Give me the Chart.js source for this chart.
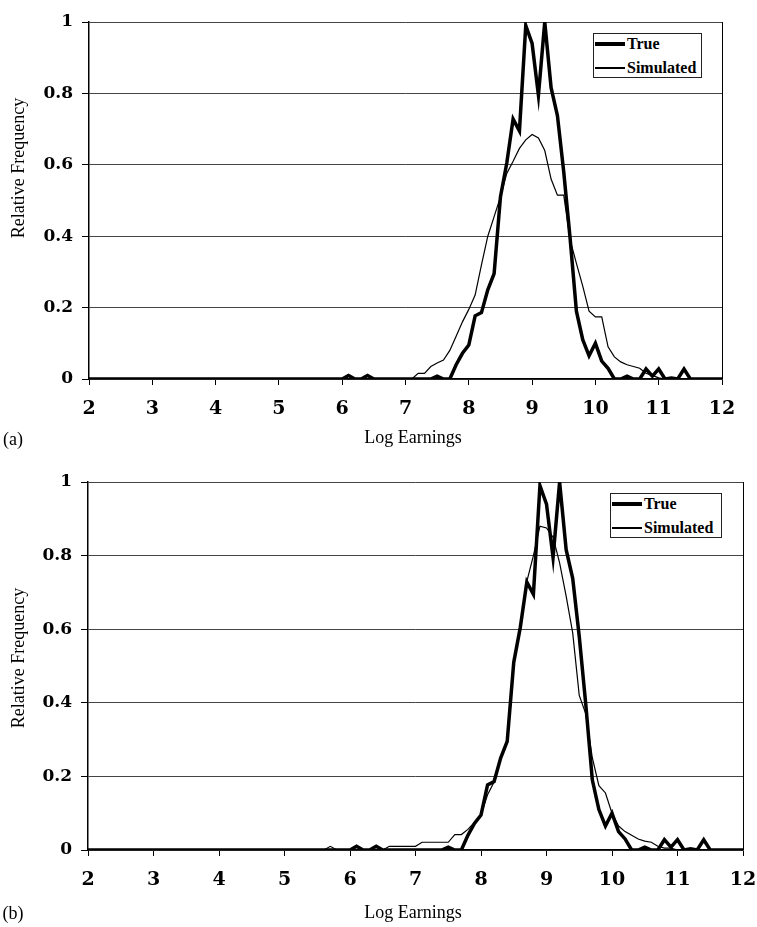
<!DOCTYPE html>
<html>
<head>
<meta charset="utf-8">
<script src="https://cdn.jsdelivr.net/npm/chart.js@4.4.1/dist/chart.umd.min.js"></script>
<style>
  body { margin: 0; background: #fff; }
  #page { position: relative; width: 757px; height: 927px; overflow: hidden; font-family: "Liberation Serif", serif; color: #000; }
  .panel { position: absolute; left: 0; }
  .centered { position: absolute; white-space: nowrap; font-size: 18px; transform: translate(-50%, -50%); }
  .rotated { transform: translate(-50%, -50%) rotate(-90deg); }
  .legend { position: absolute; box-sizing: border-box; border: 1px solid #222; background: #fff; font-weight: bold; font-size: 16px; }
  .legend .row { position: absolute; left: 1px; height: 20px; line-height: 20px; display: flex; align-items: center; white-space: nowrap; }
  .legend .swatch { width: 30px; background: #000; margin-right: 2px; }
</style>
</head>
<body>
<div id="page">
  <canvas id="chartA" class="panel" width="757" height="460" style="top:0"></canvas>
  <canvas id="chartB" class="panel" width="757" height="467" style="top:460px"></canvas>

  <div class="centered rotated" style="left:18px; top:168px">Relative Frequency</div>
  <div class="centered" style="left:413px; top:437px">Log Earnings</div>
  <div class="centered" style="left:13px; top:439px">(a)</div>

  <div class="centered rotated" style="left:18px; top:658px">Relative Frequency</div>
  <div class="centered" style="left:413px; top:912px">Log Earnings</div>
  <div class="centered" style="left:13px; top:913px">(b)</div>

  <div id="legendA" class="legend" style="left:593px; top:33px; width:109px; height:45px"></div>
  <div id="legendB" class="legend" style="left:610px; top:493px; width:112px; height:45px"></div>
</div>

<script>
// bin centres (log earnings); outside 5.6-11.6 every bin is empty
const logEarnings = [2,
  5.6, 5.7, 5.8, 5.9,
  6.0, 6.1, 6.2, 6.3, 6.4, 6.5, 6.6, 6.7, 6.8, 6.9,
  7.0, 7.1, 7.2, 7.3, 7.4, 7.5, 7.6, 7.7, 7.8, 7.9,
  8.0, 8.1, 8.2, 8.3, 8.4, 8.5, 8.6, 8.7, 8.8, 8.9,
  9.0, 9.1, 9.2, 9.3, 9.4, 9.5, 9.6, 9.7, 9.8, 9.9,
  10.0, 10.1, 10.2, 10.3, 10.4, 10.5, 10.6, 10.7, 10.8, 10.9,
  11.0, 11.1, 11.2, 11.3, 11.4, 11.5, 11.6,
  12];

// same true distribution in both panels
const trueFreq = [0,
  0, 0, 0, 0,
  0, 0.01, 0, 0, 0.01, 0, 0, 0, 0, 0,
  0, 0, 0, 0, 0, 0.008, 0, 0, 0.04, 0.072,
  0.095, 0.177, 0.186, 0.25, 0.295, 0.51, 0.605, 0.728, 0.695, 0.99,
  0.94, 0.795, 1.0, 0.816, 0.738, 0.58, 0.395, 0.19, 0.11, 0.065,
  0.1, 0.05, 0.03, 0, 0, 0.008, 0, 0, 0.028, 0.008,
  0.028, 0, 0.003, 0, 0.028, 0, 0,
  0];

// panel (a)
const simFreqA = [0,
  0, 0, 0, 0,
  0, 0, 0, 0, 0, 0, 0, 0, 0, 0,
  0, 0, 0.016, 0.016, 0.035, 0.045, 0.053, 0.08, 0.12, 0.16,
  0.195, 0.235, 0.32, 0.40, 0.455, 0.51, 0.576, 0.61, 0.646, 0.67,
  0.685, 0.675, 0.64, 0.56, 0.515, 0.515, 0.39, 0.324, 0.26, 0.19,
  0.174, 0.174, 0.09, 0.062, 0.048, 0.04, 0.035, 0.03, 0.016, 0.01,
  0.003, 0, 0, 0, 0, 0, 0,
  0];

// panel (b)
const simFreqB = [0,
  0, 0.01, 0, 0,
  0, 0.008, 0, 0, 0.008, 0, 0.01, 0.01, 0.01, 0.01,
  0.01, 0.021, 0.021, 0.021, 0.021, 0.021, 0.042, 0.042, 0.056, 0.075,
  0.095, 0.15, 0.185, 0.25, 0.30, 0.51, 0.61, 0.73, 0.80, 0.88,
  0.875, 0.85, 0.78, 0.69, 0.59, 0.42, 0.37, 0.25, 0.175, 0.155,
  0.10, 0.065, 0.05, 0.04, 0.03, 0.024, 0.021, 0.01, 0.005, 0.005,
  0, 0, 0, 0, 0, 0, 0,
  0];

const xTicks = [2, 3, 4, 5, 6, 7, 8, 9, 10, 11, 12];
const yTicks = [0, 0.2, 0.4, 0.6, 0.8, 1];

const xTickFont = { family: "DejaVu Serif", weight: "bold", size: 19 };
const yTickFont = { family: "DejaVu Serif", weight: "bold", size: 17 };

function toPoints(values) {
  return logEarnings.map((x, i) => ({ x: x, y: values[i] }));
}

// thin line on the right edge of the plot area
const plotFrame = {
  id: "plotFrame",
  beforeDatasetsDraw(chart) {
    const { ctx, chartArea } = chart;
    ctx.save();
    ctx.strokeStyle = "#000";
    ctx.lineWidth = 1;
    ctx.beginPath();
    ctx.moveTo(chartArea.right + 0.5, chartArea.top);
    ctx.lineTo(chartArea.right + 0.5, chartArea.bottom);
    ctx.stroke();
    ctx.restore();
  }
};

function buildChart(canvasId, simValues, axisLeft, rightPad, xAxisHeight) {
  return new Chart(document.getElementById(canvasId), {
    type: "line",
    data: {
      datasets: [
        { label: "True", data: toPoints(trueFreq), borderColor: "#000", borderWidth: 3.5, pointRadius: 0, tension: 0, fill: false },
        { label: "Simulated", data: toPoints(simValues), borderColor: "#000", borderWidth: 1.2, pointRadius: 0, tension: 0, fill: false }
      ]
    },
    options: {
      responsive: false,
      animation: false,
      layout: { padding: { top: 22, right: rightPad, left: 0, bottom: 0 } },
      plugins: { legend: { display: false }, tooltip: { enabled: false } },
      scales: {
        x: {
          type: "linear",
          min: xTicks[0],
          max: xTicks[xTicks.length - 1],
          afterBuildTicks: (scale) => { scale.ticks = xTicks.map((v) => ({ value: v })); },
          ticks: { font: xTickFont, color: "#000", padding: 13, maxRotation: 0, autoSkip: false },
          grid: { drawOnChartArea: false, drawTicks: true, tickLength: 6, tickColor: "#000" },
          border: { color: "#000", width: 1.5 },
          afterFit: (scale) => {
            scale.height = xAxisHeight;
            scale.paddingLeft = 0;
            scale.paddingRight = 0;
          }
        },
        y: {
          min: yTicks[0],
          max: yTicks[yTicks.length - 1],
          afterBuildTicks: (scale) => { scale.ticks = yTicks.map((v) => ({ value: v })); },
          ticks: { font: yTickFont, color: "#000", padding: 9, callback: (v) => String(Number(v.toFixed(1))) },
          grid: { color: "#444", lineWidth: 1, tickLength: 7, tickColor: "#000" },
          border: { color: "#000", width: 1.5 },
          afterFit: (scale) => { scale.width = axisLeft; }
        }
      }
    },
    plugins: [plotFrame]
  });
}

function renderLegend(chart, legendId) {
  const box = document.getElementById(legendId);
  box.innerHTML = "";
  chart.data.datasets.forEach((ds, i) => {
    const row = document.createElement("div");
    row.className = "row";
    row.style.top = (i === 0 ? 0 : 24) + "px";
    row.innerHTML = `<span class="swatch" style="height:${ds.borderWidth}px"></span><span>${ds.label}</span>`;
    box.appendChild(row);
  });
}

const chartA = buildChart("chartA", simFreqA, 89, 35, 81);
const chartB = buildChart("chartB", simFreqB, 88, 14, 77);
renderLegend(chartA, "legendA");
renderLegend(chartB, "legendB");
</script>
</body>
</html>
